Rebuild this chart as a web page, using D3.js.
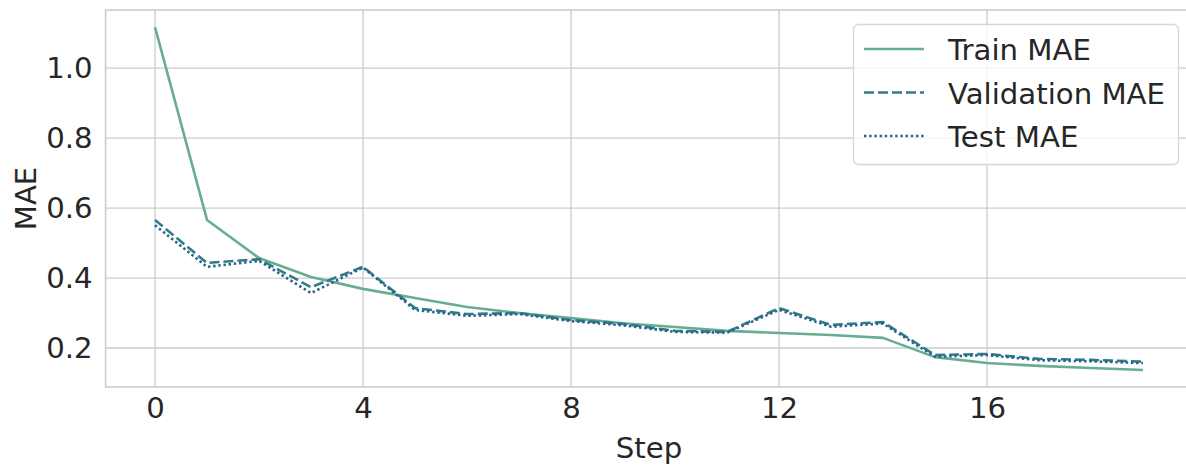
<!DOCTYPE html>
<html>
<head>
<meta charset="utf-8">
<script src="https://cdn.jsdelivr.net/npm/d3@7"></script>
<style>
  body { margin: 0; background: #fff; }
  svg { display: block; font-family: "DejaVu Sans", sans-serif; }
</style>
</head>
<body>
<svg id="chart" width="1186" height="466"></svg>
<script>
const steps = d3.range(0, 20);
const trainMae = [1.117, 0.566, 0.457, 0.403, 0.369, 0.343, 0.317, 0.300, 0.286, 0.271,
                  0.260, 0.249, 0.243, 0.237, 0.229, 0.174, 0.157, 0.149, 0.143, 0.137];
const valMae   = [0.566, 0.443, 0.454, 0.374, 0.432, 0.314, 0.297, 0.300, 0.280, 0.269,
                  0.249, 0.246, 0.314, 0.266, 0.274, 0.180, 0.183, 0.169, 0.166, 0.161];
const testMae  = [0.551, 0.432, 0.449, 0.357, 0.430, 0.309, 0.292, 0.297, 0.277, 0.265,
                  0.246, 0.244, 0.309, 0.261, 0.270, 0.175, 0.180, 0.165, 0.162, 0.157];
const xTicks = [0, 4, 8, 12, 16];
const yTicks = [0.2, 0.4, 0.6, 0.8, 1.0];

const series = [
  { name: 'Train MAE', values: trainMae, color: '#68ad91', dash: null },
  { name: 'Validation MAE', values: valMae, color: '#2f7d88', dash: '10,4' },
  { name: 'Test MAE', values: testMae, color: '#2b6289', dash: '2.4,2.8' }
];

const margin = { left: 105.6, right: 1192.4, top: 10, bottom: 387 };
const fontSize = 29.2;
const svg = d3.select('#chart');

const x = d3.scaleLinear().domain([-0.95, 19.95]).range([margin.left, margin.right]);
const y = d3.scaleLinear().domain([0.0886, 1.166]).range([margin.bottom, margin.top]);

const grid = '#cccccc';
const ink = '#262626';

// grid
svg.append('g').selectAll('line').data(xTicks).join('line')
  .attr('x1', d => x(d)).attr('x2', d => x(d))
  .attr('y1', margin.top).attr('y2', margin.bottom)
  .attr('stroke', grid).attr('stroke-width', 1.3);
svg.append('g').selectAll('line').data(yTicks).join('line')
  .attr('x1', margin.left).attr('x2', margin.right)
  .attr('y1', d => y(d)).attr('y2', d => y(d))
  .attr('stroke', grid).attr('stroke-width', 1.3);

// frame
svg.append('rect')
  .attr('x', margin.left).attr('y', margin.top)
  .attr('width', margin.right - margin.left).attr('height', margin.bottom - margin.top)
  .attr('fill', 'none').attr('stroke', grid).attr('stroke-width', 1.6);

// axes
const xAxis = svg.append('g')
  .attr('transform', `translate(0,${margin.bottom})`)
  .call(d3.axisBottom(x).tickValues(xTicks).tickSize(0).tickPadding(10).tickFormat(d3.format('d')));
const yAxis = svg.append('g')
  .attr('transform', `translate(${margin.left},0)`)
  .call(d3.axisLeft(y).tickValues(yTicks).tickSize(0).tickPadding(13).tickFormat(d3.format('.1f')));
[xAxis, yAxis].forEach(a => {
  a.select('.domain').remove();
  a.selectAll('text').attr('font-size', fontSize).attr('fill', ink).attr('font-family', '"DejaVu Sans", sans-serif');
});

svg.append('text')
  .attr('x', (margin.left + margin.right) / 2).attr('y', 458)
  .attr('text-anchor', 'middle').attr('font-size', fontSize).attr('fill', ink)
  .text('Step');
svg.append('text')
  .attr('transform', `translate(36,${(margin.top + margin.bottom) / 2}) rotate(-90)`)
  .attr('text-anchor', 'middle').attr('font-size', fontSize).attr('fill', ink)
  .text('MAE');

// lines
const line = d3.line().x((d, i) => x(steps[i])).y(d => y(d));
svg.append('g').selectAll('path').data(series).join('path')
  .attr('d', d => line(d.values))
  .attr('fill', 'none')
  .attr('stroke', d => d.color)
  .attr('stroke-width', 2.6)
  .attr('stroke-dasharray', d => d.dash)
  .attr('stroke-linejoin', 'round');

// legend
const legend = svg.append('g');
legend.append('rect')
  .attr('x', 853.5).attr('y', 24.5).attr('width', 325).attr('height', 140)
  .attr('rx', 5).attr('fill', 'rgba(255,255,255,0.8)')
  .attr('stroke', '#d6d6d6').attr('stroke-width', 1.3);
const rows = legend.selectAll('g.row').data(series).join('g')
  .attr('class', 'row')
  .attr('transform', (d, i) => `translate(0,${49 + i * 43.5})`);
rows.append('line')
  .attr('x1', 864).attr('x2', 924).attr('y1', 0).attr('y2', 0)
  .attr('stroke', d => d.color).attr('stroke-width', 2.6)
  .attr('stroke-dasharray', d => d.dash);
rows.append('text')
  .attr('x', 948).attr('y', 11)
  .attr('font-size', fontSize).attr('fill', ink)
  .text(d => d.name);
</script>
</body>
</html>
